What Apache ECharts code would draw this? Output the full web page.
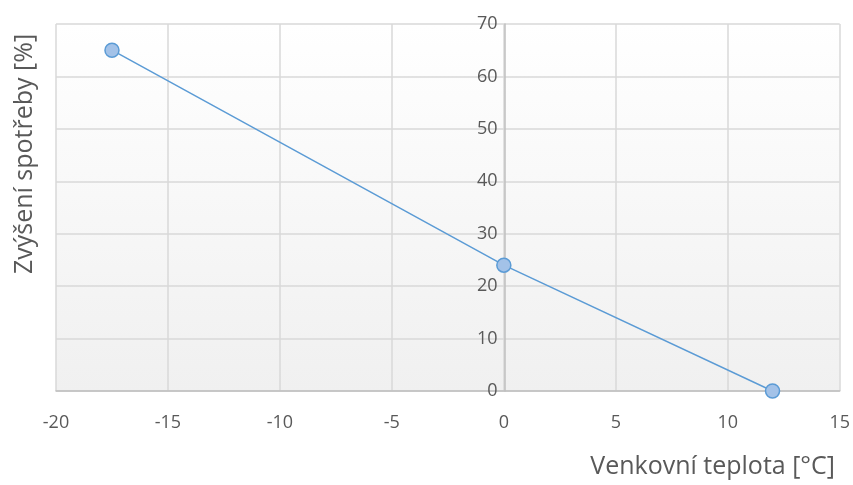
<!DOCTYPE html>
<html><head><meta charset="utf-8">
<script src="https://cdn.jsdelivr.net/npm/echarts@6/dist/echarts.min.js"></script>
<style>html,body{margin:0;padding:0;background:#fff}#c{width:853px;height:485px}</style>
</head><body><div id="c"></div>
<script>
const temps = [-17.5, 0, 12];
const increase = [65, 24, 0];
const xTitle = 'Venkovní teplota [°C]';
const yTitle = 'Zvýšení spotřeby [%]';
const FONT = '"Open Sans", "DejaVu Sans", sans-serif';
const GL = 56, GR = 12, W = 853;
const XMIN = -20, XMAX = 15;
const zeroOffset = (W - GL - GR) * (0 - XMIN) / (XMAX - XMIN);
const chart = echarts.init(document.getElementById('c'), null, {renderer: 'canvas'});
chart.setOption({
  animation: false,
  grid: {left: GL, right: GR, top: 24, bottom: 94, show: true, borderWidth: 0,
    backgroundColor: {type: 'linear', x: 0, y: 0, x2: 0, y2: 1,
      colorStops: [{offset: 0, color: '#ffffff'}, {offset: 1, color: '#f0f0f0'}]}},
  xAxis: {type: 'value', min: XMIN, max: XMAX, interval: 5,
    axisLine: {show: true, onZero: false, lineStyle: {color: '#bfbfbf', width: 1.5}},
    axisTick: {show: false},
    splitLine: {show: true, lineStyle: {color: '#d9d9d9', width: 1.5}},
    axisLabel: {color: '#595959', fontSize: 18, fontFamily: FONT, margin: 23}},
  yAxis: {type: 'value', min: 0, max: 70, interval: 10, offset: -zeroOffset,
    axisLine: {show: true, onZero: false, lineStyle: {color: '#bfbfbf', width: 1.5}},
    axisTick: {show: false},
    splitLine: {show: true, lineStyle: {color: '#d9d9d9', width: 1.5}},
    axisLabel: {color: '#595959', fontSize: 18, fontFamily: FONT, margin: 7}},
  graphic: [
    {type: 'text', x: 835, y: 467, style: {text: xTitle, fill: '#595959', font: '25px ' + FONT, align: 'right', verticalAlign: 'middle'}},
    {type: 'text', x: 25, y: 154, rotation: Math.PI / 2,
      style: {text: yTitle, fill: '#595959', font: '25px ' + FONT, align: 'center', verticalAlign: 'middle'}}
  ],
  series: [{type: 'line', data: temps.map((t, i) => [t, increase[i]]),
    symbol: 'circle', symbolSize: 14,
    lineStyle: {color: '#5b9bd5', width: 1.5},
    itemStyle: {color: '#a3c2e8', borderColor: '#5b9bd5', borderWidth: 1.5}}]
});
</script></body></html>
